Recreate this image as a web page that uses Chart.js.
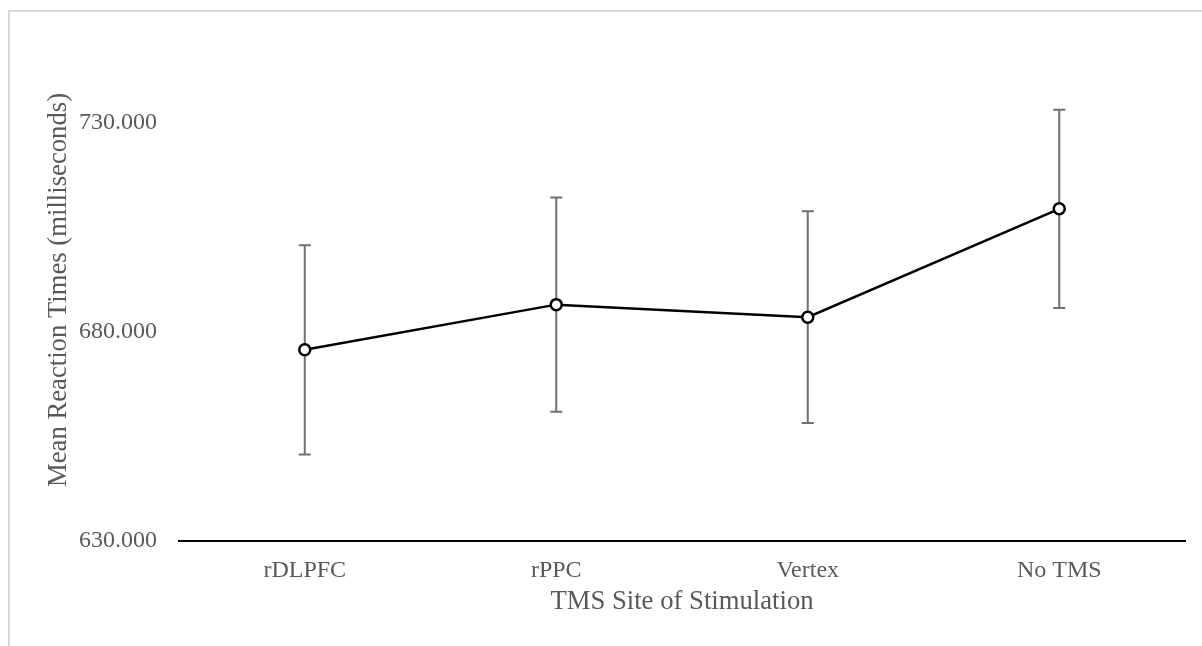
<!DOCTYPE html>
<html>
<head>
<meta charset="utf-8">
<script src="https://cdn.jsdelivr.net/npm/chart.js@4.4.1/dist/chart.umd.min.js"></script>
<style>
  html, body { margin: 0; padding: 0; background: #ffffff; }
  #wrap { position: relative; width: 1202px; height: 646px; overflow: hidden; }
  #frame { position: absolute; left: 8px; top: 10px; width: 1300px; height: 800px;
           border-left: 2px solid #d9d9d9; border-top: 2px solid #d9d9d9; box-sizing: border-box; }
  canvas { position: absolute; left: 0; top: 0; }
</style>
</head>
<body>
<div id="wrap">
  <div id="frame"></div>
  <canvas id="c" width="1202" height="646"></canvas>
</div>
<script>
const categories = ['rDLPFC', 'rPPC', 'Vertex', 'No TMS'];
const meanRT = [675.7, 686.5, 683.5, 709.4];
const errorRT = [25.0, 25.6, 25.3, 23.7];
const yTickValues = [630, 680, 730];
const yMin = 630;
const yMax = 750;

const FONT = "'Liberation Serif', 'Times New Roman', serif";
const TXT = '#595959';

const errorBars = {
  id: 'errorBars',
  beforeDatasetsDraw(chart) {
    const ctx = chart.ctx;
    const xs = chart.scales.x, ys = chart.scales.y;
    ctx.save();
    ctx.strokeStyle = '#707070';
    ctx.lineWidth = 2;
    meanRT.forEach((m, i) => {
      const x = xs.getPixelForValue(i);
      const yt = ys.getPixelForValue(m + errorRT[i]);
      const yb = ys.getPixelForValue(m - errorRT[i]);
      ctx.beginPath();
      ctx.moveTo(x, yt); ctx.lineTo(x, yb);
      ctx.moveTo(x - 6, yt); ctx.lineTo(x + 6, yt);
      ctx.moveTo(x - 6, yb); ctx.lineTo(x + 6, yb);
      ctx.stroke();
    });
    ctx.restore();
  }
};

new Chart(document.getElementById('c'), {
  type: 'line',
  data: {
    labels: categories,
    datasets: [{
      data: meanRT,
      borderColor: '#000000',
      borderWidth: 2.5,
      pointRadius: 5.5,
      pointBorderWidth: 2.5,
      pointBackgroundColor: '#ffffff',
      pointBorderColor: '#000000',
      tension: 0,
      fill: false
    }]
  },
  options: {
    responsive: false,
    animation: false,
    events: [],
    layout: { padding: { top: 39, right: 17, bottom: 0, left: 0 } },
    plugins: { legend: { display: false }, tooltip: { enabled: false } },
    scales: {
      x: {
        offset: true,
        grid: { display: false, drawTicks: false },
        border: { display: true, color: '#000000', width: 2 },
        ticks: { color: TXT, font: { family: FONT, size: 24 }, padding: 15 },
        title: { display: true, text: 'TMS Site of Stimulation', color: TXT,
                 font: { family: FONT, size: 26.7 }, padding: { top: 0, bottom: 28 } },
        afterFit(s) { s.height = 105; }
      },
      y: {
        min: yMin, max: yMax,
        grid: { display: false, drawTicks: false },
        border: { display: false },
        afterBuildTicks(s) { s.ticks = yTickValues.map(v => ({ value: v })); },
        ticks: { color: TXT, font: { family: FONT, size: 24 }, padding: 22,
                 callback: (v) => Number(v).toFixed(3) },
        title: { display: true, text: 'Mean Reaction Times (milliseconds)', color: TXT,
                 font: { family: FONT, size: 26.7 }, padding: { top: 43, bottom: 0 } },
        afterFit(s) { s.width = 179; }
      }
    }
  },
  plugins: [errorBars]
});
</script>
</body>
</html>
